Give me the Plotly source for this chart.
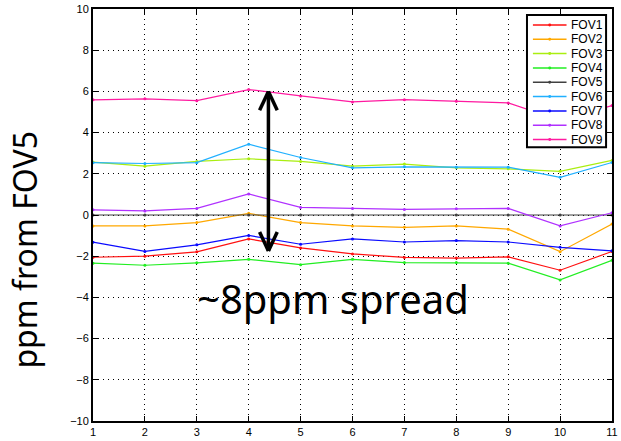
import plotly.graph_objects as go

# Acquisition index along the x axis
x_vals = [1, 2, 3, 4, 5, 6, 7, 8, 9, 10, 11]

# Offset of each field of view relative to FOV5 (ppm)
fov1 = [-2.05, -2.00, -1.79, -1.16, -1.60, -1.89, -2.06, -2.09, -2.03, -2.68, -1.77]
fov2 = [-0.53, -0.53, -0.37, 0.08, -0.37, -0.53, -0.60, -0.53, -0.69, -1.78, -0.44]
fov3 = [2.57, 2.37, 2.60, 2.73, 2.60, 2.37, 2.47, 2.29, 2.24, 2.12, 2.65]
fov4 = [-2.34, -2.44, -2.32, -2.15, -2.41, -2.15, -2.31, -2.31, -2.34, -3.15, -2.20]
fov5 = [0, 0, 0, 0, 0, 0, 0, 0, 0, 0, 0]
fov6 = [2.54, 2.50, 2.54, 3.44, 2.79, 2.29, 2.34, 2.32, 2.32, 1.83, 2.55]
fov7 = [-1.32, -1.77, -1.45, -0.99, -1.42, -1.16, -1.31, -1.24, -1.31, -1.57, -1.74]
fov8 = [0.25, 0.20, 0.32, 1.02, 0.37, 0.32, 0.27, 0.30, 0.32, -0.53, 0.11]
fov9 = [5.59, 5.64, 5.55, 6.09, 5.78, 5.49, 5.60, 5.52, 5.44, 4.60, 5.31]

series_names = ["FOV1", "FOV2", "FOV3", "FOV4", "FOV5", "FOV6", "FOV7", "FOV8", "FOV9"]
series_vals = [fov1, fov2, fov3, fov4, fov5, fov6, fov7, fov8, fov9]
series_colors = ["#ff1010", "#ffa800", "#aaee10", "#22ee22", "#404040",
                 "#20b0ff", "#0a0aff", "#b030ff", "#ff1aa0"]

y_ticks = [-10, -8, -6, -4, -2, 0, 2, 4, 6, 8, 10]

# Spread marker: double-headed arrow and its caption
arrow_x = 4.38
arrow_top = 6.0
arrow_bottom = -1.75
spread_label = "~8ppm spread"

# plot area size in pixels (used to place the boxed legend in paper units)
W, H = 621, 441
ML, MR, MT, MB = 93, 3, 9, 18
PW, PH = W - ML - MR, H - MT - MB


def px_x(px):
    return (px - ML) / PW


def px_y(py):
    return (H - MB - py) / PH


fig = go.Figure()
for name, vals, col in zip(series_names, series_vals, series_colors):
    fig.add_trace(go.Scatter(
        x=x_vals, y=vals, name=name, mode="lines+markers",
        line=dict(color=col, width=1.2),
        marker=dict(color=col, size=3),
        showlegend=False,
    ))

# arrow shaft and open V heads
head_dx = 0.17
head_dy = 0.92
arrow_w = 3.5
fig.add_shape(type="line", x0=arrow_x, x1=arrow_x, y0=arrow_bottom, y1=arrow_top,
              line=dict(color="black", width=arrow_w))
for tip, sgn in ((arrow_top, -1), (arrow_bottom, 1)):
    for side in (-1, 1):
        fig.add_shape(type="line", x0=arrow_x, y0=tip,
                      x1=arrow_x + side * head_dx, y1=tip + sgn * head_dy,
                      line=dict(color="black", width=arrow_w))

fig.add_annotation(x=5.63, y=-4.05, xref="x", yref="y", text=spread_label,
                   showarrow=False, xanchor="center", yanchor="middle",
                   font=dict(family="Noto Sans", size=40, color="black"))

fig.add_annotation(x=px_x(24), y=px_y(251), xref="paper", yref="paper",
                   text="ppm from FOV5", textangle=-90, showarrow=False,
                   xanchor="center", yanchor="middle",
                   font=dict(family="Noto Sans", size=32, color="black"))

# boxed legend in the top-right corner
box_l, box_r, box_t, box_b = 532, 612, 15, 148
row0, row_step = 25, 14.4
fig.add_shape(type="rect", xref="paper", yref="paper",
              x0=px_x(box_l), x1=px_x(box_r), y0=px_y(box_b), y1=px_y(box_t),
              fillcolor="white", line=dict(color="black", width=2), layer="above")
for i, (name, col) in enumerate(zip(series_names, series_colors)):
    ry = row0 + i * row_step
    fig.add_shape(type="line", xref="paper", yref="paper",
                  x0=px_x(538), x1=px_x(572), y0=px_y(ry), y1=px_y(ry),
                  line=dict(color=col, width=1.5), layer="above")
    fig.add_shape(type="circle", xref="paper", yref="paper",
                  x0=px_x(553.5), x1=px_x(556.5), y0=px_y(ry + 1.5), y1=px_y(ry - 1.5),
                  fillcolor=col, line=dict(width=0), layer="above")
    fig.add_annotation(x=px_x(575), y=px_y(ry), xref="paper", yref="paper",
                       text=name, showarrow=False, xanchor="left", yanchor="middle",
                       font=dict(family="Liberation Sans", size=12, color="black"))

axis_common = dict(
    showline=True, linecolor="black", linewidth=2, mirror="ticks",
    ticks="inside", ticklen=5, tickcolor="black", tickwidth=1,
    showgrid=True, gridcolor="black", gridwidth=1, griddash="1px,4px",
    zeroline=False, ticklabeloverflow="allow",
    tickfont=dict(family="Liberation Sans", size=11, color="black"),
)

fig.update_xaxes(range=[1, 11], tickvals=x_vals, **axis_common)
fig.update_yaxes(range=[-10, 10], tickvals=y_ticks, **axis_common)

fig.update_layout(
    width=W, height=H,
    margin=dict(l=ML, r=MR, t=MT, b=MB),
    paper_bgcolor="white", plot_bgcolor="white",
    showlegend=False,
)

fig.write_html("out.html")
